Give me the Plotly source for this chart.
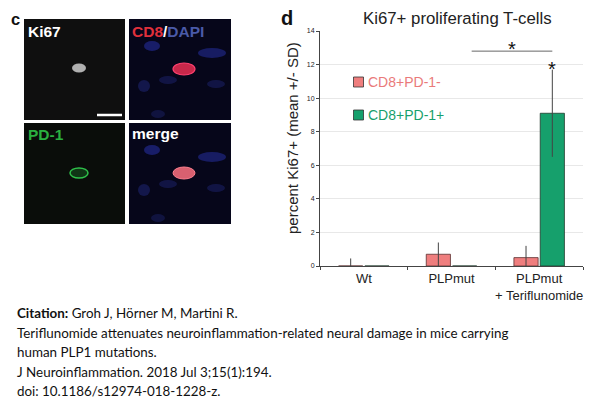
import plotly.graph_objects as go

# chart data
groups = ["Wt", "PLPmut", "PLPmut<br>+ Teriflunomide"]
pd1_neg = [0.0, 0.7, 0.5]
pd1_neg_sd = [0.45, 0.7, 0.7]
pd1_pos = [0.0, 0.0, 9.1]
pd1_pos_sd = [0.0, 0.0, 2.6]
series_names = ["CD8+PD-1-", "CD8+PD-1+"]
y_ticks = [0, 2, 4, 6, 8, 10, 12, 14]

citation = [
    "<b>Citation:</b> Groh J, Hörner M, Martini R.",
    "Teriflunomide attenuates neuroinflammation-related neural damage in mice carrying",
    "human PLP1 mutations.",
    "J Neuroinflammation. 2018 Jul 3;15(1):194.",
    "doi: 10.1186/s12974-018-1228-z.",
]

W, H = 600, 405
OFF = 8  # page body margin

def px(x):
    return (x - OFF) / W

def py(y):
    return 1 - (y - OFF) / H

PINK = "#EF7E7E"
GREEN = "#16A06C"
PINK_TXT = "#EA7A7A"
GREEN_TXT = "#17A06C"

fig = go.Figure()
fig.add_trace(go.Bar(
    x=groups, y=pd1_neg, name=series_names[0],
    marker=dict(color=PINK, line=dict(color="#5a3030", width=0.8)),
    error_y=dict(type="data", array=pd1_neg_sd, color="#444", thickness=1, width=0),
))
fig.add_trace(go.Bar(
    x=groups, y=pd1_pos, name=series_names[1],
    marker=dict(color=GREEN, line=dict(color="#1f3a2c", width=0.8)),
    error_y=dict(type="data", array=pd1_pos_sd, color="#444", thickness=1, width=0),
))

shapes = []
annotations = []

def note(x, y, text, size, color="#222", **kw):
    d = dict(x=x, y=y, xref="paper", yref="paper", text=text, showarrow=False,
             xanchor="center", yanchor="middle", font=dict(size=size, color=color))
    d.update(kw)
    annotations.append(d)

# significance bracket
shapes.append(dict(type="line", xref="x", yref="y", x0=1.23, x1=2.15, y0=12.8, y1=12.8,
                   line=dict(color="#666", width=1)))
annotations.append(dict(x=1.69, y=12.95, xref="x", yref="y", text="*", showarrow=False,
                        xanchor="center", yanchor="middle", font=dict(size=20, color="#111")))
annotations.append(dict(x=2.15, y=11.75, xref="x", yref="y", text="*", showarrow=False,
                        xanchor="center", yanchor="middle", font=dict(size=20, color="#111")))

# legend drawn inside the plot
for i, (nm, col, tcol) in enumerate([(series_names[0], PINK, PINK_TXT),
                                     (series_names[1], GREEN, GREEN_TXT)]):
    cy = 82 + i * 33
    shapes.append(dict(type="rect", xref="paper", yref="paper",
                       x0=px(353.5), x1=px(363.5), y0=py(cy + 5), y1=py(cy - 5),
                       fillcolor=col, line=dict(color="#333", width=0.8)))
    note(px(366), py(cy), nm, 14, tcol, xanchor="left")

# panel letters / titles
note(px(287), py(18.5), "<b>d</b>", 20, "#111")
note(px(457), py(18), "Ki67+ proliferating T-cells", 16.8)
note(px(292), py(138), "percent Ki67+ (mean +/- SD)", 15, textangle=-90)
note(px(9), py(19.5), "<b>c</b>", 16.5, "#111", xanchor="left")

# microscopy panels (approximate)
panels = [
    ((24, 19, 125, 120), "#0f0f0f"),
    ((129, 19, 231, 120), "#06061a"),
    ((24, 123, 125, 224), "#0a0d0a"),
    ((129, 123, 231, 224), "#06061a"),
]
for (x0, y0, x1, y1), col in panels:
    shapes.append(dict(type="rect", xref="paper", yref="paper", x0=px(x0), x1=px(x1),
                       y0=py(y1), y1=py(y0), fillcolor=col, line=dict(width=0), layer="below"))

def blob(cx, cy, rx, ry, col, line=None):
    shapes.append(dict(type="circle", xref="paper", yref="paper",
                       x0=px(cx - rx), x1=px(cx + rx), y0=py(cy + ry), y1=py(cy - ry),
                       fillcolor=col, line=line or dict(width=0)))

for oy in (0, 104):
    blob(152, 46 + oy, 8, 5, "rgba(40,50,170,0.55)")
    blob(212, 53 + oy, 14, 5, "rgba(40,50,170,0.5)")
    blob(144, 86 + oy, 6, 6, "rgba(40,50,150,0.4)")
    blob(168, 80 + oy, 9, 4, "rgba(40,50,150,0.35)")
    blob(216, 84 + oy, 9, 4, "rgba(40,50,150,0.35)")
    blob(158, 114 + oy, 7, 4, "rgba(40,50,150,0.3)")
blob(79, 68, 7, 4.5, "#b0b0b0")
blob(184, 69, 11, 6, "#c8284a", dict(color="#ff4070", width=1.2))
blob(79, 173, 9, 5, "rgba(20,80,30,0.6)", dict(color="#2fc04a", width=1.5))
blob(184, 173, 11, 6, "#d86070", dict(color="#ff8090", width=1))
shapes.append(dict(type="line", xref="paper", yref="paper", x0=px(97), x1=px(122),
                   y0=py(115), y1=py(115), line=dict(color="white", width=2.5)))

note(px(26), py(31), "<b>Ki67</b>", 15.5, "white", xanchor="left")
note(px(130), py(31), "<b><span style='color:#e0303c'>CD8</span>/"
                      "<span style='color:#4a5aa8'>DAPI</span></b>", 15.5, "white",
     xanchor="left")
note(px(26), py(134), "<b>PD-1</b>", 15.5, "#2ab040", xanchor="left")
note(px(130), py(133), "<b>merge</b>", 15.5, "white", xanchor="left")

# citation text
for i, line in enumerate(citation):
    note(px(15), py(313 + i * 19.6), line, 13.4, "#111", xanchor="left")
for a in annotations[-len(citation):]:
    a["font"]["family"] = "Lato, Open Sans"

fig.update_layout(
    width=W, height=H,
    margin=dict(l=0, r=0, t=0, b=0, autoexpand=False),
    paper_bgcolor="white", plot_bgcolor="white",
    barmode="group", bargap=0.4, bargroupgap=0.08,
    font=dict(family="Liberation Sans, Arial", color="#222"),
    showlegend=False,
    shapes=shapes,
    annotations=annotations,
)
fig.update_xaxes(domain=[px(320), px(583)], range=[-0.5, 2.5], automargin=False,
                 showline=True, linecolor="#444", linewidth=1, tickangle=0,
                 ticks="outside", tickson="boundaries", ticklen=3, tickcolor="#444",
                 tickfont=dict(size=13, color="#222"), showgrid=False)
fig.update_yaxes(domain=[py(266), py(31)], range=[0, 14], tickvals=y_ticks, automargin=False,
                 showline=True, linecolor="#444", linewidth=1,
                 ticks="outside", ticklen=3, tickcolor="#444",
                 tickfont=dict(size=7, color="#222"),
                 showgrid=True, gridcolor="#e8e8e8", gridwidth=1, zeroline=False)

fig.write_html("out.html")
